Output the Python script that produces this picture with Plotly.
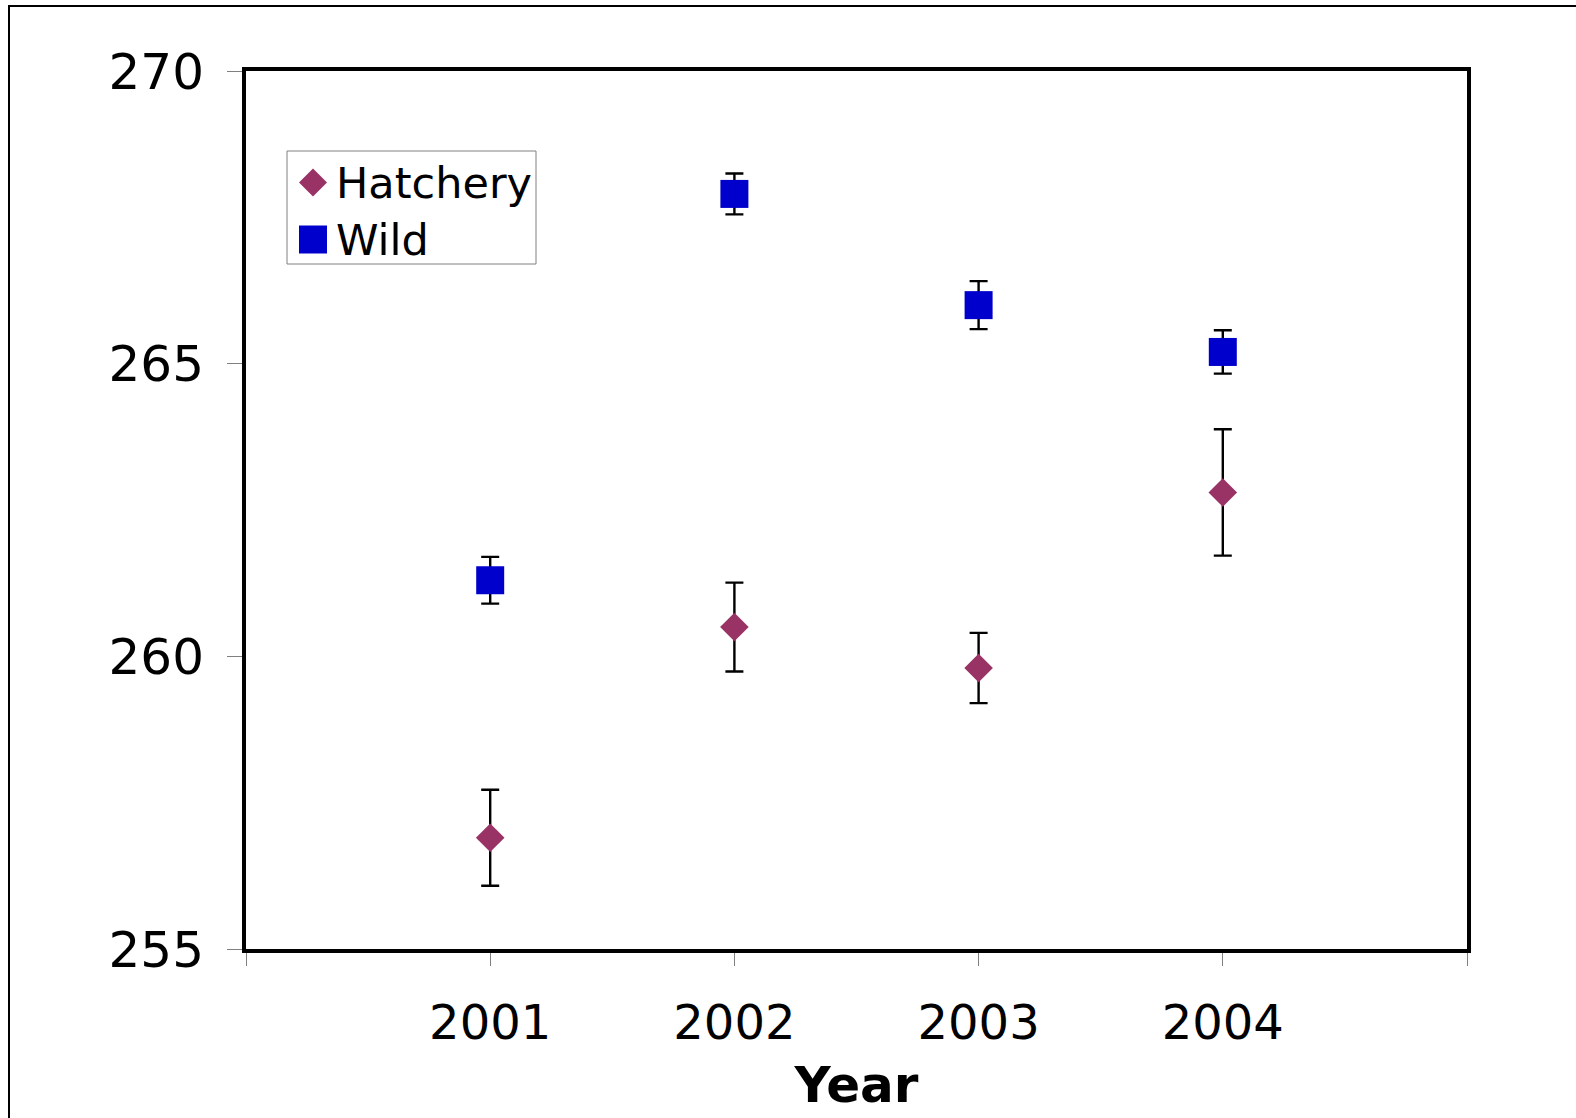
import plotly.graph_objects as go

# Mean length by release year, with standard-error bars
years = [2001, 2002, 2003, 2004]
hatchery_mean = [256.9, 260.5, 259.8, 262.8]
hatchery_err = [0.82, 0.76, 0.60, 1.08]
wild_mean = [261.3, 267.9, 266.0, 265.2]
wild_err = [0.40, 0.35, 0.41, 0.37]

x_ticks = [2000, 2001, 2002, 2003, 2004, 2005]
x_ticktext = ["", "2001", "2002", "2003", "2004", ""]
y_ticks = [255, 260, 265, 270]

FONT = "DejaVu Sans, Verdana, sans-serif"
HATCH_COLOR = "#993366"
WILD_COLOR = "#0000CC"

W, H = 1576, 1118
ml, mr, mt, mb = 246, 109, 71, 169
pw, ph = W - ml - mr, H - mt - mb


def px(x):
    """Page pixel column -> paper x."""
    return (x - ml) / pw


def py(y):
    """Page pixel row -> paper y."""
    return (H - mb - y) / ph


fig = go.Figure()
fig.add_trace(go.Scatter(
    x=years, y=hatchery_mean, mode="markers", name="Hatchery",
    marker=dict(symbol="diamond", size=22, color=HATCH_COLOR),
    error_y=dict(type="data", array=hatchery_err, color="black", thickness=2.4, width=9),
))
fig.add_trace(go.Scatter(
    x=years, y=wild_mean, mode="markers", name="Wild",
    marker=dict(symbol="square", size=28, color=WILD_COLOR),
    error_y=dict(type="data", array=wild_err, color="black", thickness=2.4, width=9),
))

# Legend box drawn by hand so the keys keep the full marker size
leg_left, leg_right, leg_top, leg_bottom = 287, 536, 151, 264
key_x, text_x = 313, 334
rows = [("Hatchery", 182.5, "diamond"), ("Wild", 239.5, "square")]

shapes = [
    # outer chart frame
    dict(type="rect", xref="paper", yref="paper",
         x0=px(9), x1=px(1600), y0=py(1140), y1=py(6),
         line=dict(color="black", width=2), fillcolor="rgba(0,0,0,0)", layer="below"),
    # legend frame
    dict(type="rect", xref="paper", yref="paper",
         x0=px(leg_left), x1=px(leg_right), y0=py(leg_bottom), y1=py(leg_top),
         line=dict(color="#808080", width=1), fillcolor="white", layer="above"),
]
annotations = []
for label, cy, sym in rows:
    r = 14
    if sym == "diamond":
        path = (f"M {px(key_x)} {py(cy - r)} L {px(key_x + r)} {py(cy)} "
                f"L {px(key_x)} {py(cy + r)} L {px(key_x - r)} {py(cy)} Z")
        shapes.append(dict(type="path", xref="paper", yref="paper", path=path,
                           fillcolor=HATCH_COLOR, line=dict(width=0), layer="above"))
    else:
        shapes.append(dict(type="rect", xref="paper", yref="paper",
                           x0=px(key_x - r), x1=px(key_x + r),
                           y0=py(cy + r), y1=py(cy - r),
                           fillcolor=WILD_COLOR, line=dict(width=0), layer="above"))
    annotations.append(dict(
        text=label, xref="paper", yref="paper", x=px(text_x), y=py(cy),
        xanchor="left", yanchor="middle", showarrow=False,
        font=dict(size=43, family=FONT, color="black"),
    ))

fig.update_layout(
    width=W, height=H,
    margin=dict(l=ml, r=mr, t=mt, b=mb),
    paper_bgcolor="white", plot_bgcolor="white",
    font=dict(family=FONT, color="black"),
    showlegend=False,
    xaxis=dict(
        range=[2000, 2005], tickmode="array", tickvals=x_ticks, ticktext=x_ticktext,
        ticks="outside", ticklen=13, tickwidth=1, tickcolor="#808080",
        showline=True, linecolor="black", linewidth=4, mirror=True,
        showgrid=False, zeroline=False,
        tickfont=dict(size=48, family=FONT), ticklabelstandoff=15,
        title=dict(text="<b>Year</b>", font=dict(size=50, family=FONT), standoff=19),
    ),
    yaxis=dict(
        range=[255, 270], tickmode="array", tickvals=y_ticks,
        ticks="outside", ticklen=15, tickwidth=1, tickcolor="#808080",
        showline=True, linecolor="black", linewidth=4, mirror=True,
        showgrid=False, zeroline=False,
        tickfont=dict(size=50, family=FONT), ticklabelstandoff=13,
    ),
    shapes=shapes,
    annotations=annotations,
)

fig.write_html("out.html")
